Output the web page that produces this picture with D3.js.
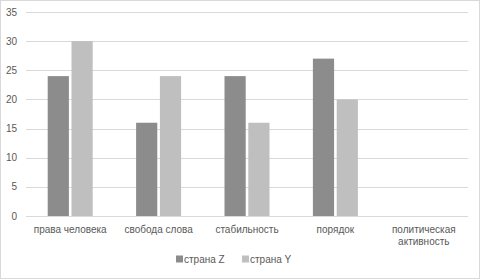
<!DOCTYPE html>
<html>
<head>
<meta charset="utf-8">
<script src="https://cdn.jsdelivr.net/npm/d3@7"></script>
<style>
  body { margin: 0; background: #fff; }
  svg { display: block; font-family: 'Liberation Sans', 'DejaVu Sans', sans-serif; }
</style>
</head>
<body>
<div id="chart"></div>
<script>
var categories = ['права человека', 'свобода слова', 'стабильность', 'порядок', 'политическая активность'];
var seriesNames = ['страна Z', 'страна Y'];
var valuesZ = [24, 16, 24, 27, 0];
var valuesY = [30, 24, 16, 20, 0];
var yTicks = [0, 5, 10, 15, 20, 25, 30, 35];
var colors = ['#8c8c8c', '#bfbfbf'];

var width = 480, height = 280;
var margin = {top: 12, right: 12, bottom: 64, left: 26};

var svg = d3.select('#chart').append('svg')
	.attr('width', width)
	.attr('height', height);

// chart border
svg.append('rect')
	.attr('x', 0.5).attr('y', 0.5)
	.attr('width', width - 1).attr('height', height - 2)
	.attr('fill', '#fff')
	.attr('stroke', '#d9d9d9');

var x = d3.scaleBand()
	.domain(categories)
	.range([margin.left, width - margin.right]);

var y = d3.scaleLinear()
	.domain([0, 35])
	.range([height - margin.bottom, margin.top]);

var inner = d3.scaleBand()
	.domain(seriesNames)
	.range([0, 45])
	.paddingInner(0.11);

// gridlines
svg.append('g')
	.selectAll('line')
	.data(yTicks)
	.enter()
	.append('line')
		.attr('x1', margin.left)
		.attr('x2', width - margin.right)
		.attr('y1', function(d) { return Math.round(y(d)) + 0.5; })
		.attr('y2', function(d) { return Math.round(y(d)) + 0.5; })
		.attr('stroke', '#d9d9d9')
		.attr('stroke-width', 1);

// y tick labels
svg.append('g')
	.selectAll('text')
	.data(yTicks)
	.enter()
	.append('text')
		.attr('x', 17)
		.attr('y', function(d) { return y(d); })
		.attr('dy', '0.35em')
		.attr('text-anchor', 'end')
		.attr('fill', '#595959')
		.style('font-size', '10px')
		.text(function(d) { return d; });

// bars
var rows = categories.map(function(c, i) {
	return {category: c, values: [valuesZ[i], valuesY[i]]};
});

var groups = svg.append('g')
	.selectAll('g')
	.data(rows)
	.enter()
	.append('g')
		.attr('transform', function(d) {
			return 'translate(' + (x(d.category) + x.bandwidth() / 2 - 22.5) + ',0)';
		});

groups.selectAll('rect')
	.data(function(d) {
		return d.values.map(function(v, j) { return {name: seriesNames[j], value: v, color: colors[j]}; });
	})
	.enter()
	.append('rect')
		.filter(function(d) { return d.value > 0; })
		.attr('x', function(d) { return inner(d.name); })
		.attr('width', inner.bandwidth())
		.attr('y', function(d) { return y(d.value); })
		.attr('height', function(d) { return y(0) - y(d.value); })
		.attr('fill', function(d) { return d.color; });

// category labels
var labels = svg.append('g')
	.selectAll('text')
	.data(categories)
	.enter()
	.append('text')
		.attr('text-anchor', 'middle')
		.attr('fill', '#595959')
		.style('font-size', '10px')
		.attr('transform', function(d) {
			return 'translate(' + (x(d) + x.bandwidth() / 2) + ',' + (y(0) + 17) + ')';
		});

labels.each(function(d) {
	var words = d.indexOf('политическая') === 0 ? d.split(' ') : [d];
	var t = d3.select(this);
	words.forEach(function(w, k) {
		t.append('tspan')
			.attr('x', 0)
			.attr('y', k * 12)
			.text(w);
	});
});

// legend
var legendItems = [{name: seriesNames[0], x: 176}, {name: seriesNames[1], x: 242}];
var legend = svg.append('g')
	.selectAll('g')
	.data(legendItems)
	.enter()
	.append('g')
		.attr('transform', function(d) { return 'translate(' + d.x + ',259)'; });

legend.append('rect')
	.attr('x', 0).attr('y', -3.5)
	.attr('width', 7).attr('height', 7)
	.attr('fill', function(d, i) { return colors[i]; });

legend.append('text')
	.attr('x', 8)
	.attr('dy', '0.35em')
	.attr('fill', '#595959')
	.style('font-size', '10px')
	.text(function(d) { return d.name; });
</script>
</body>
</html>
